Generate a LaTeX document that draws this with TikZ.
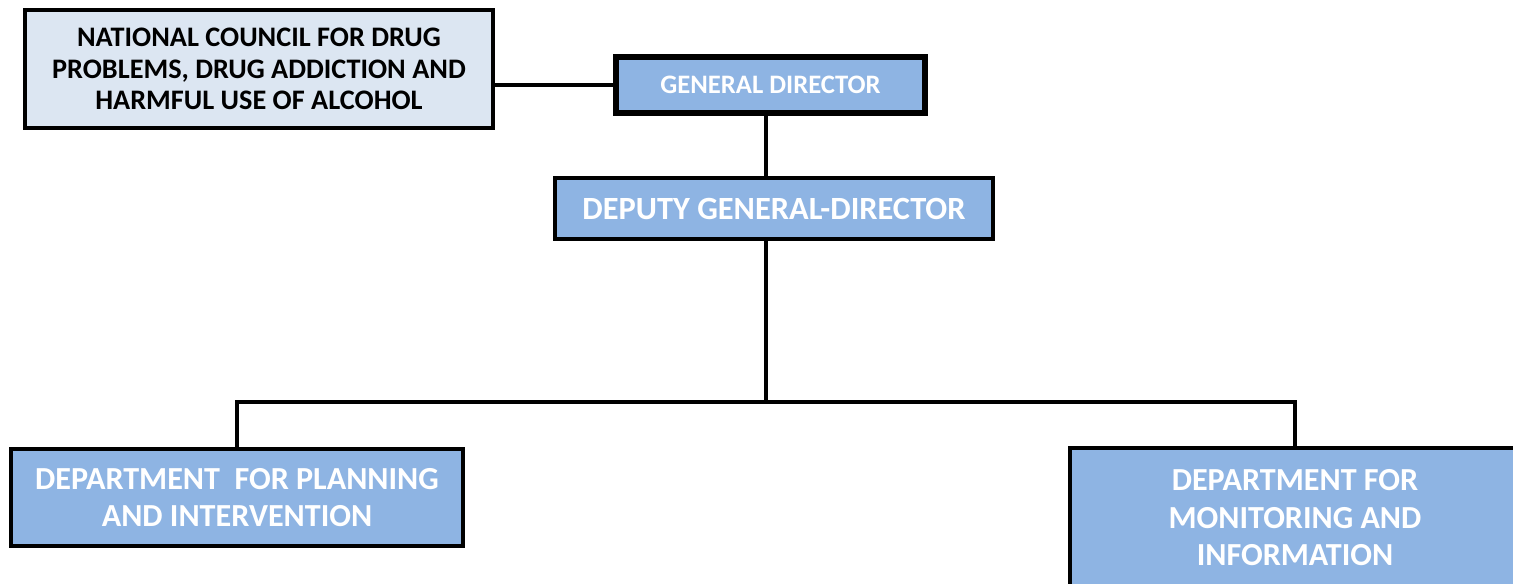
\documentclass[tikz,border=0pt]{standalone}
\usepackage{fontspec}
\setmainfont{Carlito}
\definecolor{deptblue}{HTML}{8EB4E3}
\definecolor{councilblue}{HTML}{DCE6F2}
\tikzset{
  orgbox/.style={draw=black, rectangle, inner sep=0pt, align=center,
    fill=deptblue, text=white, font=\bfseries},
  link/.style={draw=black, line width=2.4pt}
}
\begin{document}
\begin{tikzpicture}[x=0.75pt,y=-0.75pt]
  \clip (0,0) rectangle (1513,583);
  \fill[white] (0,0) rectangle (1513,583);
  % boxes
  \node[orgbox, fill=councilblue, text=black, line width=3pt,
    minimum width=351pt, minimum height=88.5pt,
    font=\bfseries\fontsize{21.2}{23.6}\selectfont] (council) at (259,69)
    {NATIONAL COUNCIL FOR DRUG\\PROBLEMS, DRUG ADDICTION AND\\HARMFUL USE OF ALCOHOL};
  \node[orgbox, line width=4.5pt, minimum width=231.75pt, minimum height=42pt,
    font=\bfseries\fontsize{20}{24}\selectfont] (gd) at (770.5,85)
    {GENERAL DIRECTOR};
  \node[orgbox, line width=3pt, minimum width=328.5pt, minimum height=45.75pt,
    font=\bfseries\fontsize{24.3}{28}\selectfont] (dep) at (774,208.5)
    {DEPUTY GENERAL-DIRECTOR};
  \node[orgbox, line width=3pt, minimum width=339pt, minimum height=72.75pt,
    font=\bfseries\fontsize{24.1}{27.75}\selectfont] (plan) at (237,497.5)
    {DEPARTMENT~~FOR PLANNING\\AND INTERVENTION};
  \node[orgbox, line width=3pt, minimum width=337.5pt, minimum height=105pt,
    font=\bfseries\fontsize{24.1}{28.1}\selectfont] (mon) at (1295,518)
    {DEPARTMENT FOR\\MONITORING AND\\INFORMATION};
  % connectors
  \coordinate (bus) at (766,402);
  \draw[link] (council.east |- gd.west) -- (gd.west);
  \draw[link] (gd.south -| bus) -- (dep.north -| bus);
  \draw[link] (dep.south -| bus) -- (bus);
  \draw[link] (plan.north) |- (bus) -| (mon.north);
\end{tikzpicture}
\end{document}
